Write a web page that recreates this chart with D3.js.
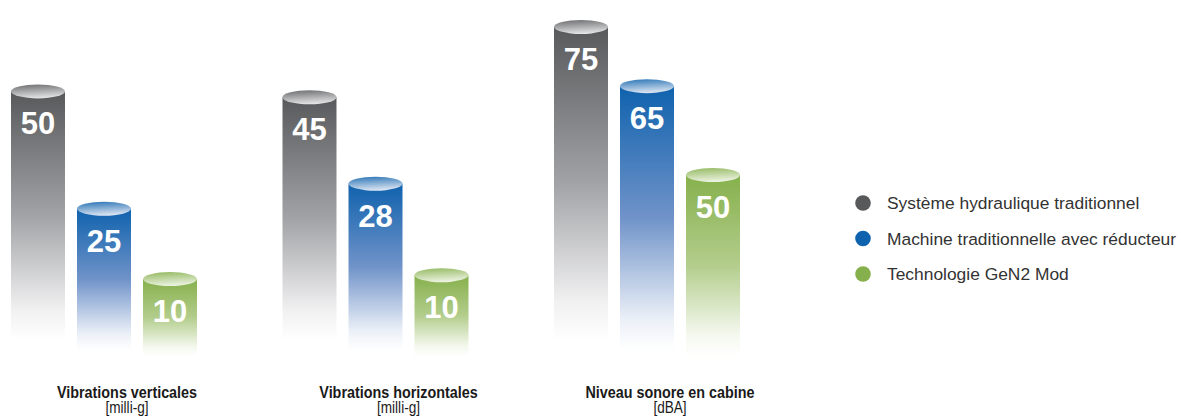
<!DOCTYPE html>
<html><head><meta charset="utf-8">
<script src="https://cdn.jsdelivr.net/npm/d3@7"></script>
<style>html,body{margin:0;padding:0;background:#fff;}svg{display:block;}</style>
</head><body>
<svg id="chart" width="1181" height="417"></svg>
<script>
const categories = ["Vibrations verticales", "Vibrations horizontales", "Niveau sonore en cabine"];
const units = ["[milli-g]", "[milli-g]", "[dBA]"];
const seriesNames = ["Système hydraulique traditionnel", "Machine traditionnelle avec réducteur", "Technologie GeN2 Mod"];
const hydraulique = [50, 45, 75];
const reducteur = [25, 28, 65];
const gen2 = [10, 10, 50];
// each panel in the original has its own value axis
const panelDomains = [[0, 65], [0, 60], [24.5, 76]];

const colors = ["#58595b", "#0f62ad", "#86b04c"];
const topLight = ["#e6e6e7", "#dfe7f3", "#eef4e4"];
const midColors = ["#a2a3a6", "#7093c9", "#b3cd8c"];

const svg = d3.select("#chart");
const defs = svg.append("defs");
colors.forEach((c, i) => {
  const g = defs.append("linearGradient").attr("id", "body" + i).attr("x1", 0).attr("y1", 0).attr("x2", 0).attr("y2", 1);
  g.append("stop").attr("offset", "0%").attr("stop-color", c);
  g.append("stop").attr("offset", "50%").attr("stop-color", midColors[i]);
  g.append("stop").attr("offset", "88%").attr("stop-color", d3.interpolateRgb(midColors[i], "#fff")(0.85));
  g.append("stop").attr("offset", "100%").attr("stop-color", "#fff");
  const t = defs.append("linearGradient").attr("id", "top" + i).attr("x1", 0.3).attr("y1", 0).attr("x2", 0.5).attr("y2", 1);
  t.append("stop").attr("offset", "0%").attr("stop-color", d3.interpolateRgb(c, "#fff")(0.15));
  t.append("stop").attr("offset", "100%").attr("stop-color", topLight[i]);
});

const values = [hydraulique, reducteur, gen2];
const x0 = d3.scaleBand().domain(categories).range([11, 825.5]).paddingInner(0).paddingOuter(0);
const x1 = d3.scaleBand().domain(d3.range(3)).range([0, 186]).paddingInner(0.182).paddingOuter(0);
const yRange = [326, 21];
const bottoms = [340, 350, 356];
const ry = 7;

categories.forEach((cat, ci) => {
  const y = d3.scaleLinear().domain(panelDomains[ci]).range(yRange);
  const g = svg.append("g").attr("transform", `translate(${x0(cat)},0)`);
  values.forEach((arr, si) => {
    const v = arr[ci];
    const bx = x1(si), bw = x1.bandwidth(), ty = y(v);
    g.append("rect").attr("x", bx).attr("y", ty).attr("width", bw).attr("height", bottoms[si] - ty)
      .attr("fill", `url(#body${si})`);
    g.append("ellipse").attr("cx", bx + bw / 2).attr("cy", ty).attr("rx", bw / 2).attr("ry", ry)
      .attr("fill", `url(#top${si})`);
    g.append("text").attr("x", bx + bw / 2).attr("y", ty + 43).attr("text-anchor", "middle")
      .attr("font-family", "Liberation Sans, Arial, sans-serif").attr("font-weight", "bold")
      .attr("font-size", 31).attr("fill", "#fff").text(v);
  });
  g.append("g").attr("transform", "translate(116,398) scale(0.87,1)")
    .append("text").attr("text-anchor", "middle")
    .attr("font-family", "Liberation Sans, Arial, sans-serif").attr("font-weight", "bold")
    .attr("font-size", 16.5).attr("fill", "#1a1a1a").text(cat);
  g.append("g").attr("transform", "translate(116,413) scale(0.85,1)")
    .append("text").attr("text-anchor", "middle")
    .attr("font-family", "Liberation Sans, Arial, sans-serif")
    .attr("font-size", 16).attr("fill", "#1a1a1a").text(units[ci]);
});

const legend = svg.append("g").attr("transform", "translate(863,203)");
seriesNames.forEach((n, i) => {
  const row = legend.append("g").attr("transform", `translate(0,${i * 35.5})`);
  row.append("circle").attr("r", 7.8).attr("fill", colors[i]);
  row.append("text").attr("x", 24).attr("y", 6).attr("font-family", "Liberation Sans, Arial, sans-serif")
    .attr("font-size", 17.4).attr("fill", "#333").text(n);
});
</script>
</body></html>
